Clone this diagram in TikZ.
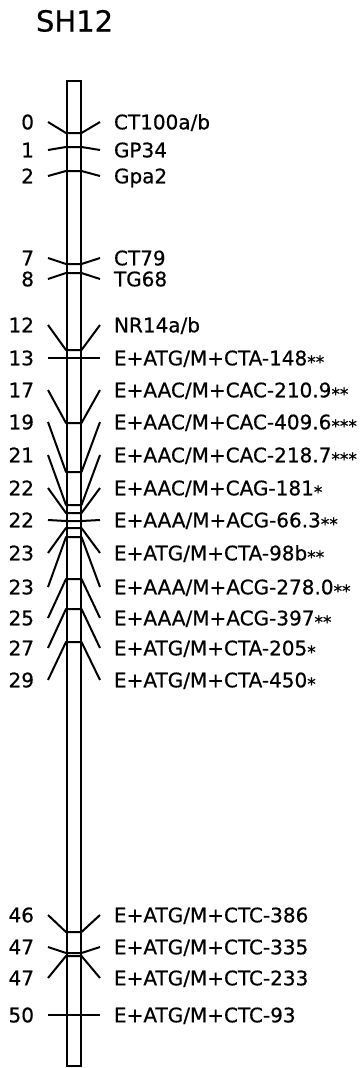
\documentclass[tikz,border=0pt]{standalone}
\usepackage{fontspec}
\setmainfont{DejaVu Sans}
\newfontfamily\plotfont{DejaVu Sans}[FakeBold=0.6]
\newcommand\stars[1]{{\fontsize{17bp}{17bp}\selectfont\raisebox{-2.8bp}{#1}}}
\tikzset{
  cmnum/.style={anchor=east,inner sep=0pt,text height=14.6bp,text depth=0bp,
    font=\plotfont\fontsize{20bp}{22bp}\selectfont},
  locus/.style={anchor=west,inner sep=0pt,text height=14.6bp,text depth=0bp,
    font=\plotfont\fontsize{20bp}{22bp}\selectfont},
  tick/.style={line join=bevel},
}
\begin{document}
\begin{tikzpicture}[x=1bp,y=-1bp]
  \pgfsetlinewidth{2bp}
  \useasboundingbox (0,0) rectangle (363,1068);
%%
  % Node: SH12
  \node[anchor=west,inner sep=0pt,text height=21bp,text depth=0bp,
    font=\plotfont\fontsize{29bp}{32bp}\selectfont] (title) at (35,21) {SH12};
  % Node: chromosome
  \node[draw,inner sep=0pt,minimum width=13.5bp,minimum height=985bp] (chrom) at (73.75,573.5) {};
%%
  % Locus: 0 CT100a/b
  \node[cmnum] (n1) at (35,122) {0};
  \node[locus] (m1) at (113,122) {CT100a/b};
  \coordinate (b1) at (0,133);
  \draw[tick] ([xshift=13bp]n1.east) -- (chrom.west |- b1) -- (chrom.east |- b1) -- ([xshift=-13bp]m1.west);
  % Locus: 1 GP34
  \node[cmnum] (n2) at (35,150) {1};
  \node[locus] (m2) at (113,150) {GP34};
  \coordinate (b2) at (0,147);
  \draw[tick] ([xshift=13bp]n2.east) -- (chrom.west |- b2) -- (chrom.east |- b2) -- ([xshift=-13bp]m2.west);
  % Locus: 2 Gpa2
  \node[cmnum] (n3) at (35,176) {2};
  \node[locus] (m3) at (113,176) {Gpa2};
  \coordinate (b3) at (0,171);
  \draw[tick] ([xshift=13bp]n3.east) -- (chrom.west |- b3) -- (chrom.east |- b3) -- ([xshift=-13bp]m3.west);
  % Locus: 7 CT79
  \node[cmnum] (n4) at (35,258) {7};
  \node[locus] (m4) at (113,258) {CT79};
  \coordinate (b4) at (0,264);
  \draw[tick] ([xshift=13bp]n4.east) -- (chrom.west |- b4) -- (chrom.east |- b4) -- ([xshift=-13bp]m4.west);
  % Locus: 8 TG68
  \node[cmnum] (n5) at (35,279) {8};
  \node[locus] (m5) at (113,279) {TG68};
  \coordinate (b5) at (0,273);
  \draw[tick] ([xshift=13bp]n5.east) -- (chrom.west |- b5) -- (chrom.east |- b5) -- ([xshift=-13bp]m5.west);
  % Locus: 12 NR14a/b
  \node[cmnum] (n6) at (35,325) {12};
  \node[locus] (m6) at (113,325) {NR14a/b};
  \coordinate (b6) at (0,350);
  \draw[tick] ([xshift=13bp]n6.east) -- (chrom.west |- b6) -- (chrom.east |- b6) -- ([xshift=-13bp]m6.west);
  % Locus: 13 E+ATG/M+CTA-148**
  \node[cmnum] (n7) at (35,358) {13};
  \node[locus] (m7) at (113,358) {E+ATG/M+CTA-148\stars{**}};
  \coordinate (b7) at (0,358);
  \draw[tick] ([xshift=13bp]n7.east) -- (chrom.west |- b7) -- (chrom.east |- b7) -- ([xshift=-13bp]m7.west);
  % Locus: 17 E+AAC/M+CAC-210.9**
  \node[cmnum] (n8) at (35,390) {17};
  \node[locus] (m8) at (113,390) {E+AAC/M+CAC-210.9\stars{**}};
  \coordinate (b8) at (0,423);
  \draw[tick] ([xshift=13bp]n8.east) -- (chrom.west |- b8) -- (chrom.east |- b8) -- ([xshift=-13bp]m8.west);
  % Locus: 19 E+AAC/M+CAC-409.6***
  \node[cmnum] (n9) at (35,422) {19};
  \node[locus] (m9) at (113,422) {E+AAC/M+CAC-409.6\stars{***}};
  \coordinate (b9) at (0,472);
  \draw[tick] ([xshift=13bp]n9.east) -- (chrom.west |- b9) -- (chrom.east |- b9) -- ([xshift=-13bp]m9.west);
  % Locus: 21 E+AAC/M+CAC-218.7***
  \node[cmnum] (n10) at (35,455) {21};
  \node[locus] (m10) at (113,455) {E+AAC/M+CAC-218.7\stars{***}};
  \coordinate (b10) at (0,505);
  \draw[tick] ([xshift=13bp]n10.east) -- (chrom.west |- b10) -- (chrom.east |- b10) -- ([xshift=-13bp]m10.west);
  % Locus: 22 E+AAC/M+CAG-181*
  \node[cmnum] (n11) at (35,488) {22};
  \node[locus] (m11) at (113,488) {E+AAC/M+CAG-181\stars{*}};
  \coordinate (b11) at (0,513);
  \draw[tick] ([xshift=13bp]n11.east) -- (chrom.west |- b11) -- (chrom.east |- b11) -- ([xshift=-13bp]m11.west);
  % Locus: 22 E+AAA/M+ACG-66.3**
  \node[cmnum] (n12) at (35,520) {22};
  \node[locus] (m12) at (113,520) {E+AAA/M+ACG-66.3\stars{**}};
  \coordinate (b12) at (0,521);
  \draw[tick] ([xshift=13bp]n12.east) -- (chrom.west |- b12) -- (chrom.east |- b12) -- ([xshift=-13bp]m12.west);
  % Locus: 23 E+ATG/M+CTA-98b**
  \node[cmnum] (n13) at (35,553) {23};
  \node[locus] (m13) at (113,553) {E+ATG/M+CTA-98b\stars{**}};
  \coordinate (b13) at (0,528);
  \draw[tick] ([xshift=13bp]n13.east) -- (chrom.west |- b13) -- (chrom.east |- b13) -- ([xshift=-13bp]m13.west);
  % Locus: 23 E+AAA/M+ACG-278.0**
  \node[cmnum] (n14) at (35,587) {23};
  \node[locus] (m14) at (113,587) {E+AAA/M+ACG-278.0\stars{**}};
  \coordinate (b14) at (0,537);
  \draw[tick] ([xshift=13bp]n14.east) -- (chrom.west |- b14) -- (chrom.east |- b14) -- ([xshift=-13bp]m14.west);
  % Locus: 25 E+AAA/M+ACG-397**
  \node[cmnum] (n15) at (35,618) {25};
  \node[locus] (m15) at (113,618) {E+AAA/M+ACG-397\stars{**}};
  \coordinate (b15) at (0,579);
  \draw[tick] ([xshift=13bp]n15.east) -- (chrom.west |- b15) -- (chrom.east |- b15) -- ([xshift=-13bp]m15.west);
  % Locus: 27 E+ATG/M+CTA-205*
  \node[cmnum] (n16) at (35,648) {27};
  \node[locus] (m16) at (113,648) {E+ATG/M+CTA-205\stars{*}};
  \coordinate (b16) at (0,609);
  \draw[tick] ([xshift=13bp]n16.east) -- (chrom.west |- b16) -- (chrom.east |- b16) -- ([xshift=-13bp]m16.west);
  % Locus: 29 E+ATG/M+CTA-450*
  \node[cmnum] (n17) at (35,680) {29};
  \node[locus] (m17) at (113,680) {E+ATG/M+CTA-450\stars{*}};
  \coordinate (b17) at (0,642);
  \draw[tick] ([xshift=13bp]n17.east) -- (chrom.west |- b17) -- (chrom.east |- b17) -- ([xshift=-13bp]m17.west);
  % Locus: 46 E+ATG/M+CTC-386
  \node[cmnum] (n18) at (35,915) {46};
  \node[locus] (m18) at (113,915) {E+ATG/M+CTC-386};
  \coordinate (b18) at (0,932);
  \draw[tick] ([xshift=13bp]n18.east) -- (chrom.west |- b18) -- (chrom.east |- b18) -- ([xshift=-13bp]m18.west);
  % Locus: 47 E+ATG/M+CTC-335
  \node[cmnum] (n19) at (35,947) {47};
  \node[locus] (m19) at (113,947) {E+ATG/M+CTC-335};
  \coordinate (b19) at (0,953);
  \draw[tick] ([xshift=13bp]n19.east) -- (chrom.west |- b19) -- (chrom.east |- b19) -- ([xshift=-13bp]m19.west);
  % Locus: 47 E+ATG/M+CTC-233
  \node[cmnum] (n20) at (35,978) {47};
  \node[locus] (m20) at (113,978) {E+ATG/M+CTC-233};
  \coordinate (b20) at (0,956);
  \draw[tick] ([xshift=13bp]n20.east) -- (chrom.west |- b20) -- (chrom.east |- b20) -- ([xshift=-13bp]m20.west);
  % Locus: 50 E+ATG/M+CTC-93
  \node[cmnum] (n21) at (35,1015) {50};
  \node[locus] (m21) at (113,1015) {E+ATG/M+CTC-93};
  \coordinate (b21) at (0,1015);
  \draw[tick] ([xshift=13bp]n21.east) -- (chrom.west |- b21) -- (chrom.east |- b21) -- ([xshift=-13bp]m21.west);
%
\end{tikzpicture}
\end{document}
